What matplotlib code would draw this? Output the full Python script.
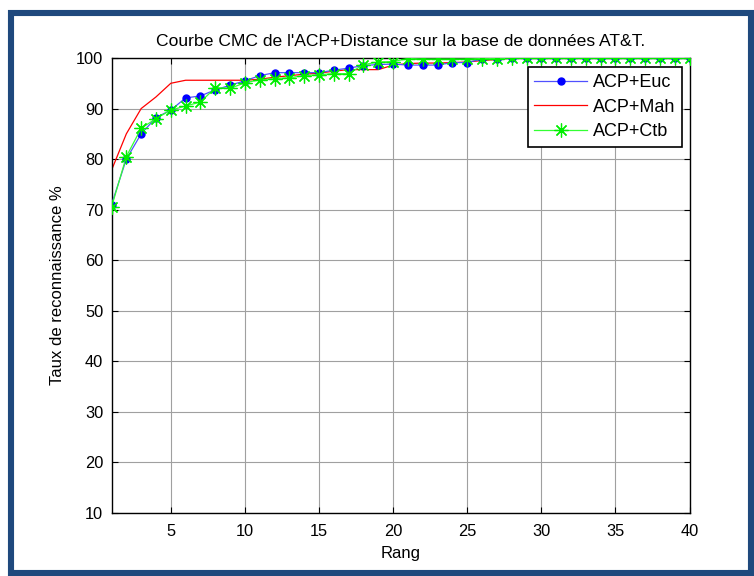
import matplotlib
matplotlib.use('Agg')
import matplotlib.pyplot as plt
from matplotlib.patches import Rectangle
import numpy as np

plt.rcParams['font.family'] = ['Liberation Sans', 'DejaVu Sans']

# Rang 1..40
rang = np.arange(1, 41)

# CMC curves
euc = [71.0, 80.0, 85.0, 88.2, 89.7, 92.1, 92.5, 93.7, 94.6, 95.5,
       96.5, 97.1, 97.1, 97.1, 97.1, 97.6, 98.0, 98.5, 98.7, 98.8,
       98.6, 98.6, 98.6, 99.1, 99.1, 99.8, 99.8, 100, 100, 100,
       100, 100, 100, 100, 100, 100, 100, 100, 100, 100]
mah = [77.8, 85.0, 90.0, 92.3, 95.0, 95.6, 95.6, 95.6, 95.6, 95.6,
       95.8, 96.2, 96.5, 96.8, 97.0, 97.4, 97.7, 97.7, 97.7, 98.6,
       98.9, 99.0, 99.0, 99.1, 99.2, 99.5, 99.7, 100, 100, 100,
       100, 100, 100, 100, 100, 100, 100, 100, 100, 100]
ctb = [70.5, 80.5, 86.1, 88.0, 89.7, 90.5, 91.3, 94.1, 94.0, 95.1,
       95.7, 95.9, 96.1, 96.5, 96.7, 96.9, 96.9, 98.7, 99.2, 99.3,
       99.9, 99.8, 99.8, 99.8, 99.8, 99.9, 99.9, 100, 100, 100,
       100, 100, 100, 100, 100, 100, 100, 100, 100, 100]

labels = ['ACP+Euc', 'ACP+Mah', 'ACP+Ctb']
xticks = [5, 10, 15, 20, 25, 30, 35, 40]
yticks = [10, 20, 30, 40, 50, 60, 70, 80, 90, 100]

fig = plt.figure(figsize=(7.54, 5.76), dpi=100)
ax = fig.add_axes([0.1479, 0.1094, 0.7666, 0.7899])

ax.plot(rang, euc, color='#5050ff', lw=0.9, marker='o', ms=5,
        mfc='#0000ff', mec='#0000ff', label=labels[0], zorder=3)
ax.plot(rang, mah, color='#ff0000', lw=0.9, label=labels[1], zorder=2)
ax.plot(rang, ctb, color='#33ff33', lw=0.9, marker=(8, 2, 0), ms=10,
        mec='#00ee00', mew=0.9, label=labels[2], zorder=4)

ax.set_xlim(1, 40)
ax.set_ylim(10, 100)
ax.set_xticks(xticks)
ax.set_yticks(yticks)
ax.grid(True, color='#a0a0a0', lw=0.8)
ax.tick_params(direction='in', length=4, width=0.8, top=True, right=True,
               labelsize=11.8)
ax.tick_params(axis='x', pad=8)
ax.tick_params(axis='y', pad=6)
for s in ax.spines.values():
    s.set_linewidth(1.0)

ax.set_title("Courbe CMC de l'ACP+Distance sur la base de données AT&T.",
             fontsize=12.6, pad=9)
ax.set_xlabel('Rang', fontsize=12, labelpad=5)
ax.set_ylabel('Taux de reconnaissance %', fontsize=12, labelpad=8)

leg = ax.legend(loc='upper right', bbox_to_anchor=(0.987, 0.980),
                borderaxespad=0, fancybox=False, edgecolor='black',
                framealpha=1, fontsize=13, numpoints=1,
                handlelength=2.9, handletextpad=0.33, labelspacing=0.42,
                borderpad=0.38)
leg.get_frame().set_linewidth(1.2)

# dark blue frame round the picture
fig.patches.append(Rectangle((11 / 754, 3 / 576), 740 / 754, 560 / 576,
                             transform=fig.transFigure, fill=False,
                             edgecolor='#1f497d', lw=4.4, zorder=10))

fig.savefig('out.png', dpi=100)
